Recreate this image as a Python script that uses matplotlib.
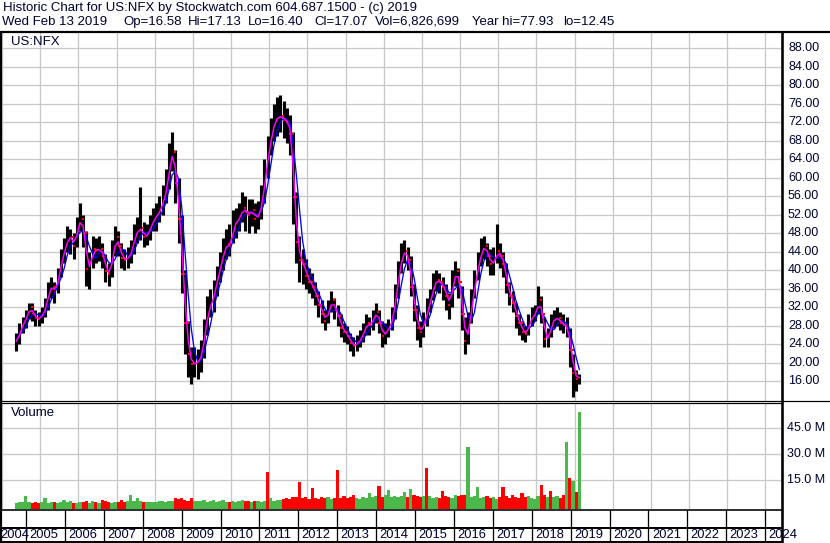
import numpy as np
import pandas as pd
import matplotlib
matplotlib.use('Agg')
import matplotlib.pyplot as plt
from matplotlib.lines import Line2D
from matplotlib.transforms import blended_transform_factory

plt.rcParams['font.family'] = ['Liberation Sans', 'DejaVu Sans']

# ---------------- data (monthly, May 2004 .. Feb 2019) ----------------
start_year, start_month = 2004, 5

close = [
    24.7, 27.2, 28.6, 30.1, 32.0, 30.6, 29.6, 29.4,
    30.6, 32.0, 35.9, 36.4, 35.4, 38.8, 42.3, 44.7, 47.1, 47.1, 45.2, 49.6,
    51.0, 48.1, 40.3, 41.3, 44.7, 44.2, 44.7, 43.2, 39.8, 39.3, 43.2, 47.1,
    45.2, 42.7, 42.3, 42.7, 44.2, 47.6, 48.6, 49.1, 47.1, 47.6, 49.6, 51.0,
    52.0, 53.0, 55.4, 57.8, 63.7, 65.6, 58.8, 51.0, 39.3, 28.6, 21.8, 19.8,
    19.8, 20.3, 21.8, 26.7, 31.5, 32.5, 35.4, 38.4, 41.3, 44.2, 45.7, 45.2,
    49.6, 50.5, 51.5, 53.5, 52.5, 52.0, 53.0, 51.0, 52.0, 54.9, 60.8, 65.6,
    69.5, 72.5, 73.0, 73.4, 72.5, 72.0, 69.5, 55.9, 46.2, 42.3, 41.3, 38.8,
    37.4, 36.4, 34.5, 32.5, 30.6, 29.1, 31.5, 33.5, 31.5, 30.1, 27.6, 26.7,
    25.7, 24.2, 23.7, 24.2, 25.2, 26.7, 28.6, 28.1, 29.6, 31.0, 28.6, 25.7,
    26.7, 27.6, 29.6, 34.5, 39.3, 43.2, 44.2, 42.3, 36.4, 31.5, 27.6, 26.7,
    28.6, 31.5, 33.5, 36.9, 37.9, 37.4, 36.4, 34.5, 32.5, 37.4, 39.8, 37.4,
    30.6, 24.7, 27.6, 33.5, 37.4, 41.3, 44.2, 45.2, 43.2, 41.3, 41.8, 44.2,
    43.2, 41.3, 36.9, 34.5, 33.0, 30.1, 28.6, 26.7, 26.2, 28.6, 30.1, 30.6,
    33.5, 30.6, 25.2, 25.2, 28.6, 29.6, 29.6, 28.6, 28.1, 27.6, 22.8, 17.9,
    16.5, 17.07,
]

high = [
    26.5, 28.5, 30.0, 31.5, 33.0, 33.0, 31.5, 31.0,
    32.0, 34.0, 37.5, 38.5, 37.5, 40.5, 44.5, 47.0, 49.5, 49.0, 48.0, 51.5,
    54.5, 52.0, 48.5, 44.0, 47.5, 47.0, 47.5, 46.0, 43.5, 41.5, 46.5, 49.5,
    48.5, 46.0, 44.5, 45.0, 46.5, 50.0, 51.5, 58.0, 50.5, 50.0, 52.0, 53.5,
    54.5, 56.0, 58.5, 62.0, 67.5, 70.0, 66.0, 60.0, 52.0, 40.0, 29.0, 23.5,
    23.5, 23.0, 25.0, 29.5, 34.5, 36.0, 38.0, 41.0, 44.0, 47.0, 49.0, 50.0,
    53.0, 53.5, 54.5, 57.0, 56.0, 55.5, 55.5, 54.5, 55.0, 58.5, 64.0, 69.0,
    73.0, 76.0, 77.5, 78.0, 76.5, 75.0, 73.5, 70.0, 57.0, 47.5, 44.5, 42.5,
    40.5, 39.5, 37.5, 35.5, 33.5, 31.5, 33.5, 35.5, 34.0, 32.5, 30.5, 28.5,
    28.0, 26.5, 25.5, 26.0, 27.0, 28.5, 30.5, 30.0, 31.5, 33.0, 31.5, 29.0,
    28.5, 29.5, 32.0, 37.0, 42.0, 46.0, 46.5, 45.0, 43.0, 37.0, 32.5, 29.0,
    31.0, 34.0, 36.0, 39.5, 40.0, 39.5, 38.5, 37.0, 35.0, 40.0, 42.0, 40.5,
    36.5, 30.0, 31.0, 36.0, 40.0, 44.0, 47.0, 47.5, 46.0, 44.5, 45.0, 50.0,
    46.0, 44.0, 41.5, 37.5, 35.5, 33.0, 30.5, 29.0, 28.0, 30.5, 32.0, 32.5,
    36.5, 34.5, 30.0, 27.5, 30.5, 31.5, 32.0, 31.0, 30.5, 30.0, 27.5, 22.0,
    18.5, 17.5,
]

low = [
    22.5, 24.0, 26.5, 27.5, 29.5, 29.0, 28.0, 28.0,
    28.5, 30.0, 31.5, 34.0, 33.0, 35.0, 38.5, 41.5, 44.0, 43.5, 42.5, 45.0,
    48.5, 45.0, 36.5, 36.0, 40.5, 41.5, 42.0, 40.5, 37.5, 36.5, 38.5, 43.0,
    43.0, 40.5, 40.0, 40.5, 41.5, 43.5, 46.0, 46.5, 45.0, 45.5, 46.5, 48.5,
    48.5, 50.5, 52.0, 54.5, 57.5, 61.5, 54.5, 46.0, 35.0, 22.0, 17.0, 15.5,
    17.0, 16.5, 18.0, 21.0, 26.0, 30.0, 31.0, 34.5, 37.5, 40.0, 42.5, 43.0,
    46.0, 47.0, 48.5, 50.5, 48.5, 48.0, 49.5, 48.0, 49.0, 51.0, 54.5, 60.0,
    65.0, 68.0, 69.0, 70.0, 68.5, 67.5, 65.0, 50.0, 41.5, 37.5, 37.0, 36.0,
    35.0, 34.0, 32.5, 30.0, 28.5, 27.0, 28.5, 31.0, 29.5, 28.0, 25.5, 24.5,
    24.0, 22.5, 21.5, 22.5, 23.5, 24.5, 26.0, 26.0, 27.0, 28.5, 26.5, 23.5,
    24.0, 25.5, 27.0, 29.5, 34.0, 39.5, 41.5, 40.0, 34.5, 29.0, 25.0, 23.5,
    25.5, 28.0, 31.0, 33.5, 35.5, 35.0, 33.5, 31.5, 29.5, 32.0, 36.5, 34.0,
    27.0, 22.0, 24.0, 28.5, 34.0, 38.0, 41.0, 42.5, 41.0, 39.0, 39.0, 41.5,
    40.5, 38.5, 35.0, 32.5, 31.0, 27.5, 26.0, 25.0, 24.5, 26.0, 28.0, 29.0,
    30.5, 28.5, 23.5, 23.5, 25.5, 27.5, 28.0, 27.0, 26.5, 25.5, 19.0, 12.5,
    14.0, 15.5,
]

# volume per bar, millions of shares
volume = [
    1.8, 2.2, 2.0, 5.7, 2.0, 1.6, 2.4, 1.8,
    2.0, 4.4, 1.8, 2.2, 2.4, 1.6, 2.0, 3.5, 2.2, 2.6, 1.8, 1.6,
    2.0, 2.4, 2.6, 1.8, 2.8, 2.2, 1.8, 3.5, 2.6, 2.0, 1.8, 2.4,
    2.0, 3.5, 2.0, 2.6, 6.3, 3.0, 4.3, 2.6, 2.2, 2.0, 2.2, 2.4,
    2.4, 2.6, 2.8, 2.4, 2.8, 3.0, 4.4, 4.0, 4.4, 3.5, 3.0, 4.4,
    2.6, 3.0, 2.6, 3.5, 2.4, 3.0, 3.5, 2.2, 2.8, 3.5, 2.4, 2.2,
    2.6, 2.2, 2.8, 3.5, 3.0, 2.6, 2.2, 2.6, 2.8, 2.4, 2.8, 19.6,
    4.4, 2.8, 3.2, 3.4, 3.8, 4.5, 3.8, 5.0, 5.2, 13.8, 4.5, 5.0,
    4.0, 10.3, 4.5, 4.0, 5.0, 4.5, 5.2, 4.0, 4.8, 20.8, 4.5, 5.5,
    4.5, 5.0, 6.0, 4.5, 4.2, 5.0, 4.5, 7.6, 5.0, 5.5, 11.5, 5.0,
    6.0, 9.3, 5.0, 5.5, 5.0, 5.5, 8.0, 5.0, 9.5, 6.0, 5.5, 5.0,
    5.8, 21.8, 5.5, 4.5, 5.0, 4.5, 8.8, 5.5, 5.0, 4.5, 6.0, 5.5,
    6.0, 6.5, 34.4, 5.0, 5.5, 10.8, 4.5, 5.0, 5.5, 4.5, 5.0, 4.2,
    5.0, 11.2, 5.5, 4.5, 6.0, 5.0, 4.5, 7.6, 5.0, 5.5, 4.5, 4.2,
    5.5, 12.3, 6.0, 5.0, 8.8, 5.0, 5.5, 4.5, 6.0, 37.0, 16.3, 14.4,
    8.0, 54.4,
]

# colour of the tall volume bars (up = green, down = red)
spike_dir = {
    '2004-08': 'up', '2005-02': 'up', '2007-05': 'up', '2010-12': 'down',
    '2011-10': 'down', '2012-02': 'down', '2012-10': 'down', '2013-08': 'up',
    '2013-11': 'down', '2014-02': 'up', '2014-07': 'up', '2014-09': 'up',
    '2015-02': 'down', '2015-07': 'down', '2016-03': 'up', '2016-06': 'up',
    '2017-02': 'down', '2017-08': 'down', '2018-02': 'down', '2018-05': 'down',
    '2018-10': 'up', '2018-11': 'down', '2018-12': 'up', '2019-02': 'up',
}

price_ticks = [88, 84, 80, 76, 72, 68, 64, 60, 56, 52, 48, 44, 40, 36, 32, 28, 24, 20, 16]
vol_ticks = [15, 30, 45]
years = list(range(2004, 2025))

header1 = "Historic Chart for US:NFX by Stockwatch.com 604.687.1500 - (c) 2019"
header2_fields = ["Wed Feb 13 2019", "Op=16.58", "Hi=17.13", "Lo=16.40", "Cl=17.07",
                  "Vol=6,826,699", "Year hi=77.93", "lo=12.45"]

# ---------------- derived ----------------
n = len(close)
t = np.array([start_year + (start_month - 1 + i + 0.5) / 12.0 for i in range(n)])
labels_ym = [f"{start_year + (start_month - 1 + i) // 12}-{(start_month - 1 + i) % 12 + 1:02d}"
             for i in range(n)]
s_close = pd.Series(close)
ma_fast = s_close.rolling(2, min_periods=1).mean()
ma_slow = s_close.rolling(4, min_periods=1).mean()
prev = np.array([close[0]] + close[:-1])
up = np.array(close) >= prev
vol_up = np.array([spike_dir[k] == 'up' if k in spike_dir else u
                   for k, u in zip(labels_ym, up)])

# ---------------- layout helpers ----------------
W, H = 830, 543
PX = 0.72  # points per pixel at dpi 100
TXT = '#000033'
GRID = '#c8c8c8'

fig = plt.figure(figsize=(W / 100, H / 100), dpi=100)
fig.patch.set_facecolor('white')


def rect(x0, y0, x1, y1):
    return [x0 / W, 1 - y1 / H, (x1 - x0) / W, (y1 - y0) / H]


def px2year(px):
    return 2005 + (px - 26) / 38.9


def year2px(yr):
    return 26 + (yr - 2005) * 38.9


def hline(y, x0, x1, lw=1):
    fig.add_artist(Line2D([x0 / W, x1 / W], [1 - y / H, 1 - y / H],
                          transform=fig.transFigure, color='black', lw=lw * PX,
                          solid_capstyle='butt'))


def vline(x, y0, y1, lw=1, color='black'):
    fig.add_artist(Line2D([x / W, x / W], [1 - y0 / H, 1 - y1 / H],
                          transform=fig.transFigure, color=color, lw=lw * PX,
                          solid_capstyle='butt'))


XL = (px2year(2), px2year(781))

# ---------------- price panel ----------------
axp = fig.add_axes(rect(2, 33, 781, 401))
axp.set_xlim(*XL)
axp.set_ylim(11.74, 91.31)
for s in axp.spines.values():
    s.set_visible(False)
axp.set_xticks(years)
axp.set_yticks(price_ticks)
axp.tick_params(left=False, bottom=False, labelleft=False, labelbottom=False)
axp.grid(True, color=GRID, lw=1.3 * PX)
axp.set_axisbelow(True)

axp.vlines(t, low, high, color='black', lw=3.1 * PX)
down = ~up
axp.scatter(t[down] + 0.012, np.array(close)[down], s=3, marker='s',
            color='#ff0000', lw=0, zorder=3)
axp.scatter(t[down] - 0.012, prev[down], s=3, marker='s',
            color='#ff0000', lw=0, zorder=3)
axp.plot(t, ma_slow, color='#0000ff', lw=1.3 * PX, zorder=4)
axp.plot(t, ma_fast, color='#ff00ff', lw=1.5 * PX, zorder=5)

axp.text(9 / 779, 1 - 9 / 368, 'US:NFX', transform=axp.transAxes, ha='left', va='center',
         fontsize=9.5, color=TXT)
bt = blended_transform_factory(fig.transFigure, axp.transData)
for p in price_ticks:
    fig.text(788 / W, p, f'{p:.2f}', transform=bt, ha='left', va='center',
             fontsize=9, color=TXT)

# ---------------- volume panel ----------------
axv = fig.add_axes(rect(2, 404, 781, 509))
axv.set_xlim(*XL)
vbot = -1.86
axv.set_ylim(vbot, 59.2)
for s in axv.spines.values():
    s.set_visible(False)
axv.set_xticks(years)
axv.set_yticks(vol_ticks)
axv.tick_params(left=False, bottom=False, labelleft=False, labelbottom=False)
axv.grid(True, color=GRID, lw=1.3 * PX)
axv.set_axisbelow(True)
vcol = np.where(vol_up, '#4cb84c', '#ff0000')
axv.bar(t, np.array(volume) - vbot, bottom=vbot, width=1.0 / 12, color=vcol, lw=0)
axv.text(9 / 779, 1 - 9 / 105, 'Volume', transform=axv.transAxes, ha='left', va='center',
         fontsize=9.5, color=TXT)
btv = blended_transform_factory(fig.transFigure, axv.transData)
for v in vol_ticks:
    fig.text(787 / W, v, f'{v:.1f} M', transform=btv, ha='left', va='center',
             fontsize=9, color=TXT)

# ---------------- header ----------------
fig.text(3 / W, 1 - 8 / H, header1, ha='left', va='center', fontsize=9.5, color=TXT)
field_x = [2, 123, 188, 248, 314, 375, 472, 563]
for fx, txt in zip(field_x, header2_fields):
    fig.text(fx / W, 1 - 22 / H, txt, ha='left', va='center', fontsize=9.5, color=TXT)

# ---------------- frame lines ----------------
hline(32, 0, 830, 2.2)
vline(1, 32, 543, 2.2)
vline(782, 32, 543, 2.6)
vline(829.5, 32, 543, 1)
hline(400.8, 0, 782, 1.2)
hline(403.4, 0, 782, 1.2)
hline(400.5, 782, 830, 1.2)
hline(509.5, 0, 782, 1.6)
hline(527.8, 0, 782, 2)
hline(541.5, 0, 782, 2)

# year separators and labels
for yr in years[1:]:
    xp = year2px(yr)
    vline(xp, 509.5, 541.5, 1.3)
for yr in years:
    xp = year2px(yr)
    xl = max(xp + 3.5, 0.5)
    fig.text(xl / W, 1 - 535 / H, str(yr), ha='left', va='center', fontsize=9.3, color=TXT)

fig.savefig('out.png', dpi=100, facecolor='white')
